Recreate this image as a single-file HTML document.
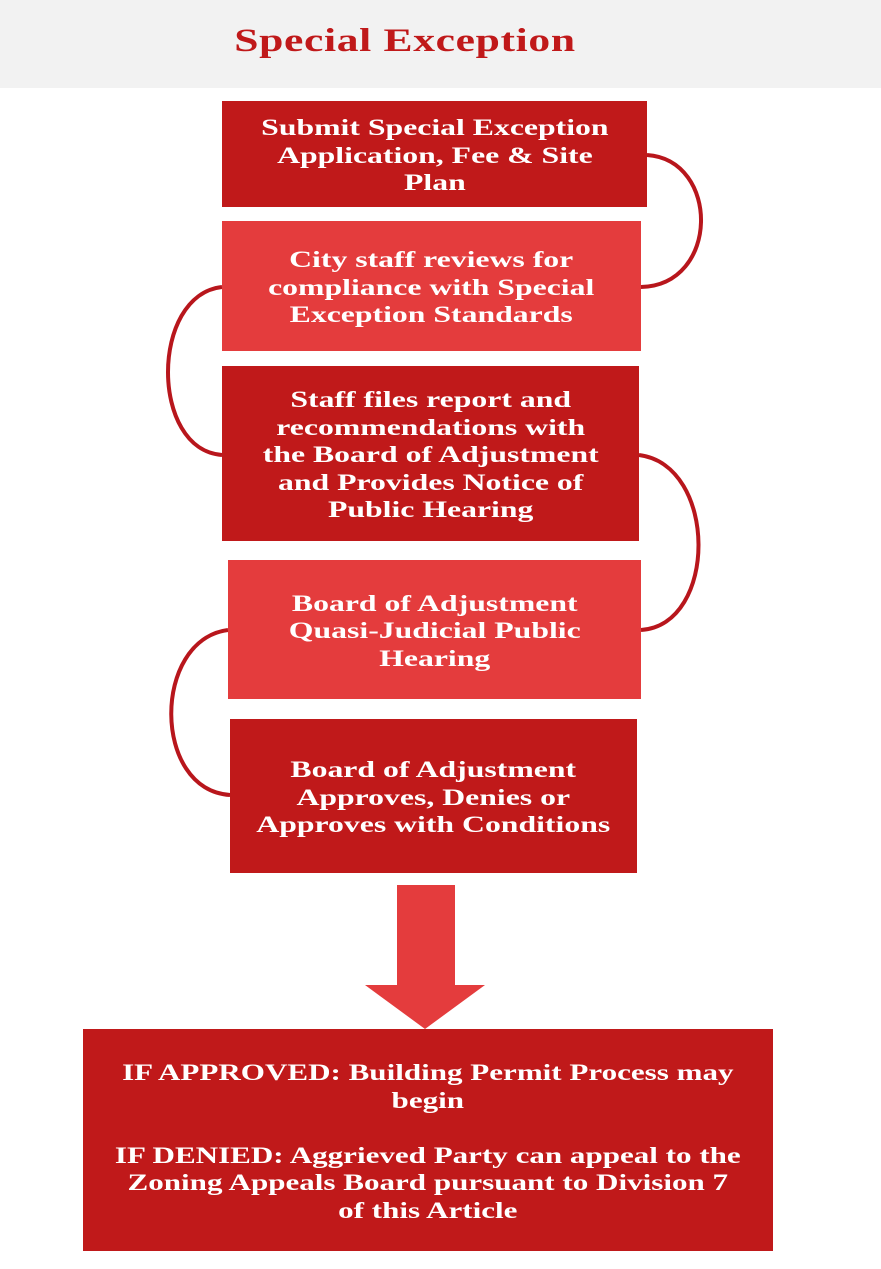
<!DOCTYPE html>
<html><head><meta charset="utf-8"><style>
body{margin:0;width:881px;height:1269px;background:#fff;position:relative;overflow:hidden;font-family:"Liberation Serif",serif;}
.hdr{position:absolute;left:0;top:0;width:881px;height:88px;background:#f2f2f2;}
.title{position:absolute;left:0;width:810px;top:23px;text-align:center;color:#c0191a;font-weight:bold;font-size:33px;letter-spacing:0.5px;transform:scaleX(1.32);transform-origin:405px 0;}
.b{position:absolute;display:flex;align-items:center;justify-content:center;text-align:center;color:#fff;font-weight:bold;font-size:23px;line-height:27.5px;padding-top:3px;box-sizing:border-box;}
.b span{display:block;transform:scaleX(1.38);white-space:nowrap;}
.d{background:#c0191a;}.l{background:#e43c3d;}
svg{position:absolute;left:0;top:0;}
</style></head><body>
<div class="hdr"></div>
<div class="title">Special Exception</div>
<svg width="881" height="1269">
<g fill="none" stroke="#b8161c" stroke-width="4">
<path d="M647,155 C720,160 720,285 641,287"/>
<path d="M222,287 C150,295 150,450 222,455"/>
<path d="M639,455 C718,465 718,625 641,630"/>
<path d="M228,630 C152,640 152,790 230,795"/>
</g>
<polygon points="397,885 455,885 455,985 485,985 425,1029 365,985 397,985" fill="#e43c3d"/>
</svg>
<div class="b d" style="left:222px;top:101px;width:425px;height:106px;"><span>Submit Special Exception<br>Application, Fee &amp; Site<br>Plan</span></div>
<div class="b l" style="left:222px;top:221px;width:419px;height:130px;"><span>City staff reviews for<br>compliance with Special<br>Exception Standards</span></div>
<div class="b d" style="left:222px;top:366px;width:417px;height:175px;"><span>Staff files report and<br>recommendations with<br>the Board of Adjustment<br>and Provides Notice of<br>Public Hearing</span></div>
<div class="b l" style="left:228px;top:560px;width:413px;height:139px;"><span>Board of Adjustment<br>Quasi-Judicial Public<br>Hearing</span></div>
<div class="b d" style="left:230px;top:719px;width:407px;height:154px;"><span>Board of Adjustment<br>Approves, Denies or<br>Approves with Conditions</span></div>
<div class="b d" style="left:83px;top:1029px;width:690px;height:222px;"><span style="transform:scaleX(1.35)">IF APPROVED: Building Permit Process may<br>begin<br><br>IF DENIED: Aggrieved Party can appeal to the<br>Zoning Appeals Board pursuant to Division 7<br>of this Article</span></div>
</body></html>
